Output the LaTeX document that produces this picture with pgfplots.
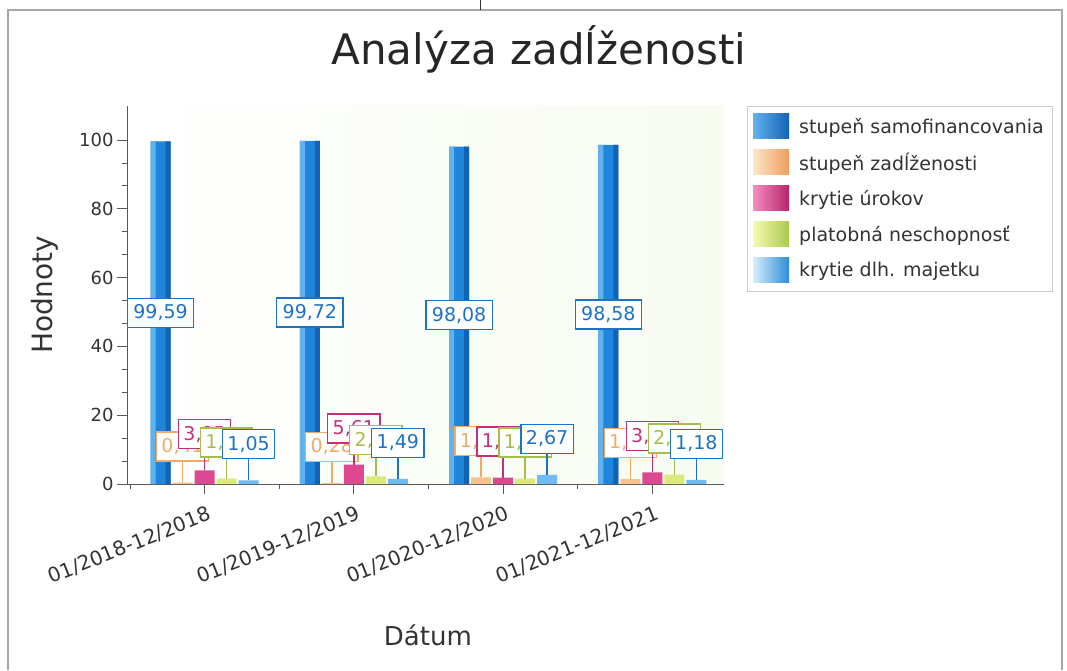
\documentclass[border=0pt]{standalone}
\usepackage{fontspec}
\setmainfont{DejaVu Sans}
\usepackage{pgfplots}
\pgfplotsset{compat=1.18}
\definecolor{bAl}{HTML}{62B2EE}\definecolor{bAm}{HTML}{1F86DC}\definecolor{bAr}{HTML}{1462B4}
\definecolor{oL}{HTML}{FDE6C8}\definecolor{oM}{HTML}{F8C28C}\definecolor{oR}{HTML}{EE9E5A}
\definecolor{pL}{HTML}{F58CC0}\definecolor{pM}{HTML}{DE4890}\definecolor{pR}{HTML}{B8236A}
\definecolor{gL}{HTML}{F6FAB0}\definecolor{gM}{HTML}{DCEA7C}\definecolor{gR}{HTML}{A9C94C}
\definecolor{cL}{HTML}{D7EEFC}\definecolor{cM}{HTML}{6EBCF1}\definecolor{cR}{HTML}{2C8BD8}
\definecolor{tO}{HTML}{F2AA66}\definecolor{tP}{HTML}{C2307C}\definecolor{tG}{HTML}{A5BD4A}\definecolor{tB}{HTML}{1E72C6}
\pgfplotsset{
  lab/.style={
    nodes near coords={\pgfmathprintnumber[use comma,fixed,fixed zerofill,precision=2]{\pgfplotspointmeta}},
    every node near coord/.append style={anchor=south, yshift=21pt, draw=#1, fill=white, text=#1,
      font=\fontsize{19}{22}\selectfont, inner xsep=5pt, inner ysep=4pt, minimum height=29pt, line width=1.3pt,
      append after command={(\tikzlastnode.south) edge[draw=#1, line width=1.5pt] ++(0pt,-21pt)}}
  },
  sw/.style 2 args={legend image code/.code={\shade[left color=#1, right color=#2] (0pt,-12.5pt) rectangle (36pt,12.5pt); \path (44pt,0pt);}}
}
\begin{document}
\begin{tikzpicture}[x=1pt,y=1pt]
\path[use as bounding box] (0,0) rectangle (1067,670);
\draw[black!35, line width=1.5pt] (8,0) -- (8,660) -- (1062,660) -- (1062,0);
\draw[black!80] (480,660) -- (480,670);
\node[font=\fontsize{42}{50}\selectfont, text=black!85, anchor=base] at (539,605) {Analýza zadĺženosti};
\begin{axis}[
  at={(127pt,186pt)}, anchor=south west, scale only axis, width=597pt, height=378.4pt,
  ymin=0, ymax=110, xmin=-0.52, xmax=3.48,
  ybar, bar width=20pt,
  axis x line*=bottom, axis y line*=left,
  axis line style={black!65, line width=0.8pt},
  ytick={0,20,40,60,80,100}, minor y tick num=2,
  xtick={0,1,2,3}, xticklabels={01/2018-12/2018,01/2019-12/2019,01/2020-12/2020,01/2021-12/2021},
  minor xtick={-0.5,0.5,1.5,2.5},
  tick align=outside, major tick length=10pt, minor tick length=5pt,
  tick style={black!65, line width=0.8pt},
  /pgf/number format/assume math mode=true,
  ticklabel style={font=\fontsize{18}{22}\selectfont, text=black!80},
  x tick label style={rotate=22, anchor=north east, inner sep=2pt, yshift=-9pt, font=\fontsize{20}{22}\selectfont},
  ylabel={Hodnoty}, xlabel={Dátum},
  ylabel style={at={(axis description cs:-0.137,0.5)}, anchor=center, font=\fontsize{28}{32}\selectfont, text=black!80},
  xlabel style={at={(axis description cs:0.504,-0.399)}, anchor=center, font=\fontsize{26}{30}\selectfont, text=black!80},
  axis background/.style={left color=white, right color={rgb,255:red,247;green,251;blue,240}},
  legend style={at={(1.0385,1)}, anchor=north west, draw=black!20, fill=white,
    font=\fontsize{19}{22}\selectfont, text=black!80, row sep=11pt, inner xsep=6pt, inner ysep=8pt},
  legend cell align=left,
]
% stupeň samofinancovania
\addplot[draw=none, fill=bAm, bar shift=-44pt, sw={bAl}{bAr},
  visualization depends on={y \as \rawy},
  nodes near coords={\pgfmathprintnumber[use comma,fixed,fixed zerofill,precision=2]{\pgfplotspointmeta}},
  every node near coord/.append style={anchor=center, yshift={-\rawy*1.72pt}, draw=tB, fill=white, text=tB,
      font=\fontsize{19}{22}\selectfont, inner xsep=6pt, inner ysep=4pt, minimum height=29pt, line width=1.3pt}]
  coordinates {(0,99.59) (1,99.72) (2,98.08) (3,98.58)};
\addlegendentry{stupeň samofinancovania}
\addplot[draw=none, fill=oM, bar shift=-22pt, lab=tO, sw={oL}{oR}]
  coordinates {(0,0.41) (1,0.28) (2,1.92) (3,1.42)};
\addlegendentry{stupeň zadĺženosti}
\addplot[draw=none, fill=pM, bar shift=0pt, lab=tP, sw={pL}{pR}]
  coordinates {(0,3.95) (1,5.61) (2,1.85) (3,3.40)};
\addlegendentry{krytie úrokov}
\addplot[draw=none, fill=gM, bar shift=22pt, lab=tG, sw={gL}{gR}]
  coordinates {(0,1.60) (1,2.20) (2,1.60) (3,2.75)};
\addlegendentry{platobná neschopnosť}
\addplot[draw=none, fill=cM, bar shift=44pt, lab=tB, sw={cL}{cR}]
  coordinates {(0,1.05) (1,1.49) (2,2.67) (3,1.18)};
\addlegendentry{krytie dlh. majetku}
% shading stripes for the tall bars (same data)
\addplot[forget plot, draw=none, fill=bAl, bar width=5pt, bar shift=-51.5pt]
  coordinates {(0,99.59) (1,99.72) (2,98.08) (3,98.58)};
\addplot[forget plot, draw=none, fill=bAr, bar width=5pt, bar shift=-36.5pt]
  coordinates {(0,99.59) (1,99.72) (2,98.08) (3,98.58)};
\end{axis}
\end{tikzpicture}
\end{document}
